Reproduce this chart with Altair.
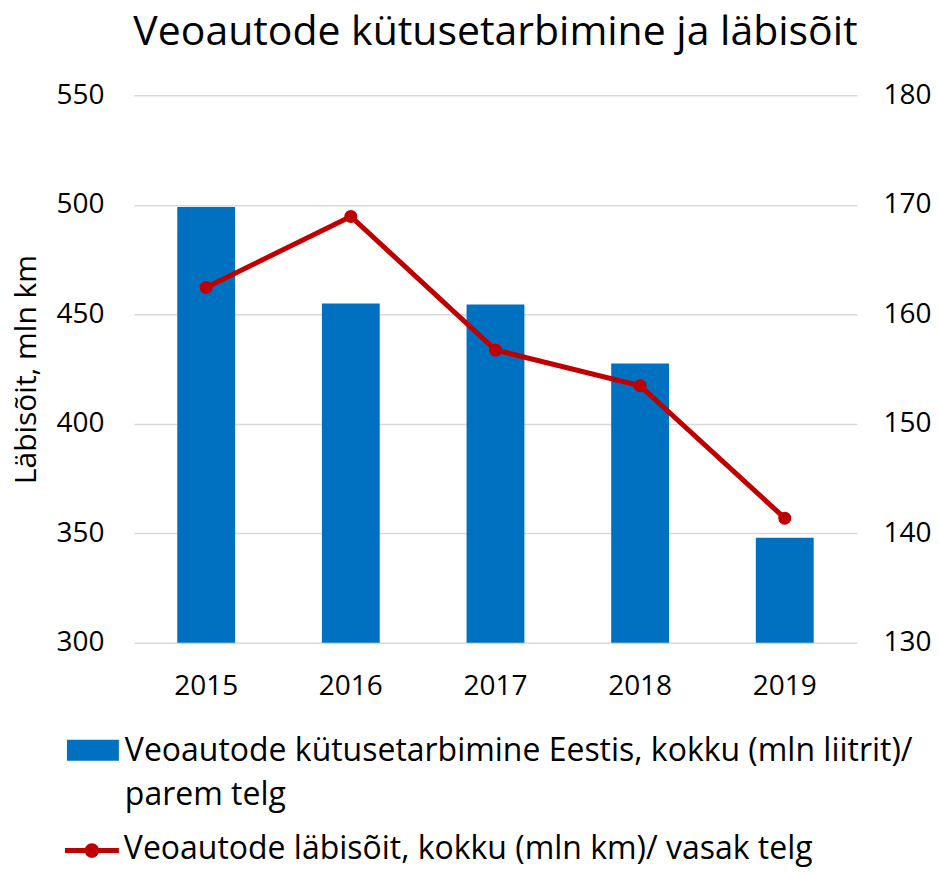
import altair as alt
import pandas as pd

# ---- data ----
years = ["2015", "2016", "2017", "2018", "2019"]
fuel_mln_l = [169.8, 161.0, 160.9, 155.5, 139.6]      # bars, right axis
mileage_mln_km = [462.3, 494.7, 433.7, 417.4, 356.9]  # line, left axis

left_ticks = [300, 350, 400, 450, 500, 550]
right_ticks = [130, 140, 150, 160, 170, 180]

chart_title = "Veoautode kütusetarbimine ja läbisõit"
left_axis_title = "Läbisõit, mln km"
bar_series = "Veoautode kütusetarbimine Eestis, kokku (mln liitrit)/\nparem telg"
line_series = "Veoautode läbisõit, kokku (mln km)/ vasak telg"

FONT = "Open Sans"
BLUE = "#0070C0"
RED = "#C00000"
GRID = "#D9D9D9"

df = pd.DataFrame({
    "year": years,
    "fuel": fuel_mln_l,
    "mileage": mileage_mln_km,
    "bar_series": [bar_series] * len(years),
    "line_series": [line_series] * len(years),
})

x_enc = alt.X(
    "year:N", title=None,
    scale=alt.Scale(paddingInner=0.6, paddingOuter=0.3),
    axis=alt.Axis(labelAngle=0, ticks=False, domain=False, grid=False,
                  labelPadding=30, labelFontSize=28, labelFont=FONT,
                  labelColor="black"),
)

BAR_SYMBOL = "M-1,-0.8H1V0H-1Z"
LINE_SYMBOL = ("M-1,-0.39H1V-0.21H-1Z "
               "M0.27,-0.3A0.27,0.27 0 1,1 -0.27,-0.3A0.27,0.27 0 1,1 0.27,-0.3Z")

bars = alt.Chart(df).mark_bar().encode(
    x=x_enc,
    y=alt.Y("fuel:Q",
            scale=alt.Scale(domain=[130, 180], nice=False, zero=False),
            axis=alt.Axis(orient="right", values=right_ticks, grid=False,
                          ticks=False, domain=False, labelPadding=26,
                          labelFontSize=28, labelFont=FONT, labelColor="black",
                          title=None)),
    y2=alt.datum(130),
    color=alt.Color("bar_series:N", scale=alt.Scale(range=[BLUE]),
                    legend=alt.Legend(
                        title=None, orient="none", legendX=-67, legendY=640,
                        padding=0, symbolType=BAR_SYMBOL, symbolSize=2704,
                        symbolStrokeWidth=0, symbolOpacity=1,
                        labelFont=FONT, labelFontSize=32, labelColor="black",
                        labelLimit=1200, labelOffset=6,
                        labelBaseline="alphabetic",
                        labelExpr="split(datum.label, '\\n')")),
)

y_left = alt.Y("mileage:Q",
               scale=alt.Scale(domain=[300, 550], nice=False, zero=False),
               axis=alt.Axis(orient="left", values=left_ticks, grid=True,
                             gridColor=GRID, gridWidth=1.5, ticks=False,
                             domain=False, labelPadding=30, labelFontSize=28,
                             labelFont=FONT, labelColor="black",
                             title=left_axis_title, titleFont=FONT,
                             titleFontSize=30, titleFontWeight="normal",
                             titleColor="black", titlePadding=14))

line = alt.Chart(df).mark_line(color=RED, strokeWidth=5).encode(
    x=x_enc, y=y_left)

points = alt.Chart(df).mark_circle(size=170, opacity=1).encode(
    x=x_enc, y=y_left,
    fill=alt.Fill("line_series:N", scale=alt.Scale(range=[RED]),
                  legend=alt.Legend(
                      title=None, orient="none", legendX=-69, legendY=737,
                      padding=0, symbolType=LINE_SYMBOL, symbolSize=2916,
                      symbolStrokeWidth=0, symbolOpacity=1,
                      labelFont=FONT, labelFontSize=32, labelColor="black",
                      labelLimit=1200, labelOffset=5,
                      labelBaseline="alphabetic")),
)

chart = alt.layer(bars, alt.layer(line, points)).resolve_scale(
    y="independent"
).properties(
    width=724, height=548,
    padding={"left": 3, "top": 4, "right": 0, "bottom": 2},
    title=alt.Title(chart_title, font=FONT, fontSize=41, fontWeight="normal",
                    color="black", anchor="middle", offset=27),
).configure(
    style={"guide-label": {"lineHeight": 44}},
    view=alt.ViewConfig(strokeWidth=0, stroke="transparent"),
)

chart.save("out.html", embed_options={"renderer": "svg", "actions": False})
